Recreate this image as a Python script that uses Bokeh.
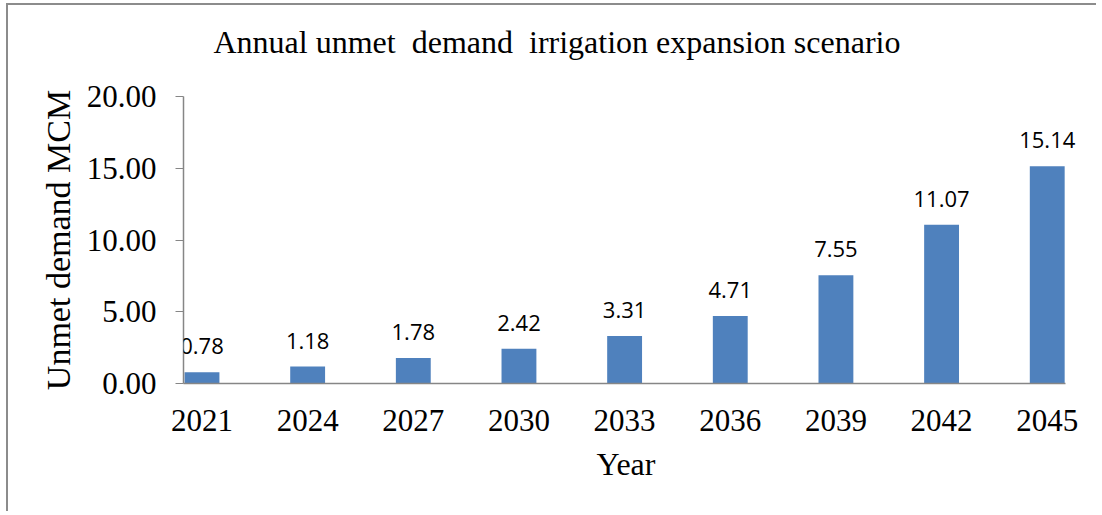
from bokeh.plotting import figure
from bokeh.models import ColumnDataSource, LabelSet, FixedTicker, Range1d, PrintfTickFormatter, Title
from bokeh.core.properties import value
from bokeh.embed import file_html
from bokeh.resources import INLINE

years = ["2021", "2024", "2027", "2030", "2033", "2036", "2039", "2042", "2045"]
unmet = [0.78, 1.18, 1.78, 2.42, 3.31, 4.71, 7.55, 11.07, 15.14]
y_ticks = [0, 5, 10, 15, 20]

xs = list(range(len(years)))
labels = [f"{v:.2f}" for v in unmet]
src = ColumnDataSource(dict(x=xs, top=unmet, label=labels))

SERIF = "Liberation Serif"
AXIS_GRAY = "#868686"
X_LO, X_HI = -0.175, 8.17

p = figure(width=1090, height=508, output_backend="svg", toolbar_location=None,
           x_range=Range1d(X_LO, 8.4), y_range=Range1d(0, 20),
           min_border_left=175, min_border_right=9, min_border_top=91, min_border_bottom=130,
           styles={"border-left": "2px solid #8c8c8c", "border-top": "2px solid #8c8c8c",
                   "margin-left": "6px", "margin-top": "3px"})

p.vbar(x="x", top="top", bottom=0, width=0.33, source=src, fill_color="#4F81BD", line_color=None)

p.add_layout(LabelSet(x="x", y="top", text="label", source=src, y_offset=18,
                      text_align="center", text_baseline="alphabetic",
                      text_font=value("Open Sans"), text_font_size="22px", text_color="#000000"))

# spacer between plot area and the title
p.add_layout(Title(text="\u00a0", text_font_size="1px", standoff=34), "above")

p.title.text = "Annual unmet\u00a0 demand\u00a0 irrigation expansion scenario"
p.title.text_font = SERIF
p.title.text_font_size = "32px"
p.title.text_font_style = "normal"
p.title.text_color = "#000000"
p.title.align = "left"
p.title.offset = 30
p.title.standoff = 0

p.add_layout(Title(text="Year", text_font=SERIF, text_font_size="32px", text_font_style="normal",
                   text_color="#000000", align="left", offset=413, standoff=24,
                   vertical_align="top"), "below")

p.xgrid.grid_line_color = None
p.ygrid.grid_line_color = None
p.outline_line_color = None

xa = p.xaxis[0]
xa.bounds = (X_LO, X_HI)
xa.ticker = FixedTicker(ticks=xs)
xa.major_label_overrides = {i: y for i, y in enumerate(years)}
xa.major_tick_line_color = None
xa.minor_tick_line_color = None
xa.major_tick_out = 0
xa.major_tick_in = 0
xa.axis_line_color = AXIS_GRAY
xa.axis_line_width = 1.5
xa.major_label_text_font = SERIF
xa.major_label_text_font_size = "31px"
xa.major_label_text_color = "#000000"
xa.major_label_standoff = 26

ya = p.yaxis[0]
ya.ticker = FixedTicker(ticks=y_ticks)
ya.formatter = PrintfTickFormatter(format="%.2f")
ya.minor_tick_line_color = None
ya.major_tick_out = 8
ya.major_tick_in = 0
ya.major_tick_line_color = AXIS_GRAY
ya.axis_line_color = AXIS_GRAY
ya.axis_line_width = 1.5
ya.major_label_text_font = SERIF
ya.major_label_text_font_size = "31px"
ya.major_label_text_color = "#000000"
ya.major_label_standoff = 19
ya.axis_label = "Unmet demand MCM"
ya.axis_label_text_font = SERIF
ya.axis_label_text_font_size = "34px"
ya.axis_label_text_font_style = "normal"
ya.axis_label_text_color = "#000000"
ya.axis_label_standoff = 7

open("out.html", "w").write(file_html(p, INLINE))
